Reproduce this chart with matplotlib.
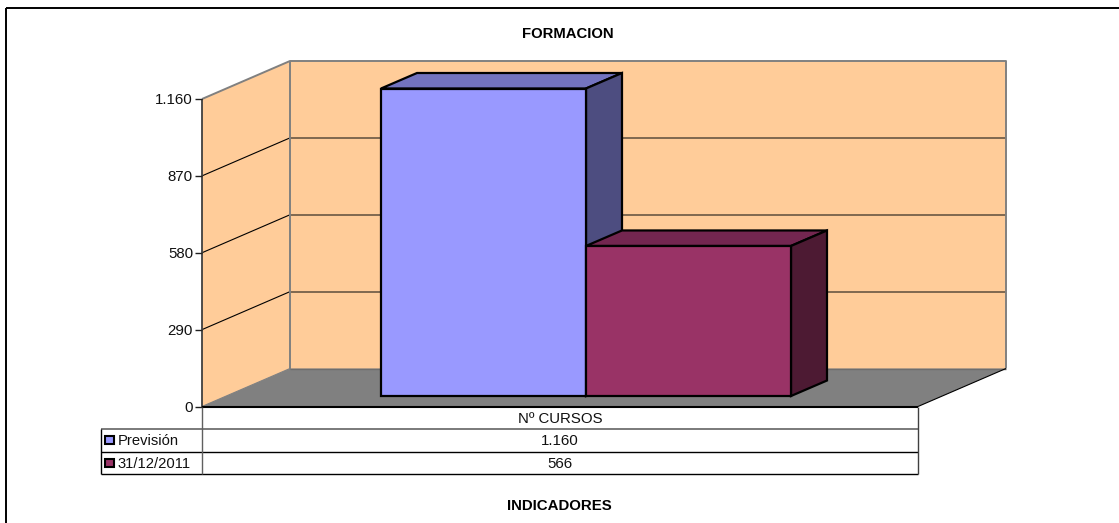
import matplotlib
matplotlib.use('Agg')
import matplotlib.pyplot as plt
from matplotlib.patches import Polygon, Rectangle

plt.rcParams['font.family'] = ['Liberation Sans', 'DejaVu Sans']

series = ['Previsión', '31/12/2011']
values = [1160, 566]
value_labels = ['1.160', '566']
category = 'Nº CURSOS'
ticks = [0, 290, 580, 870, 1160]
tick_labels = ['0', '290', '580', '870', '1.160']
colors = ['#9999ff', '#993366']
top_colors = ['#7373bf', '#732650']
side_colors = ['#4d4d80', '#4d1a33']

W, H = 1119, 523
fig = plt.figure(figsize=(W / 100, H / 100), dpi=100)
ax = fig.add_axes([0, 0, 1, 1])
ax.set_xlim(0, W)
ax.set_ylim(H, 0)
ax.axis('off')

# pixel layout of the fake 3d box
x0, x1 = 202, 918
y0 = 406.5
px_per_unit = 307.5 / 1160
dx, dy = 88, -38
bar_dx, bar_dy = 36, -15.5
bar_x = 381
bar_w = 205
bar_base = 396


def val_y(v):
    return y0 - v * px_per_unit


def poly(pts, fc, ec='none', lw=1.0, z=1):
    ax.add_patch(Polygon(pts, closed=True, fc=fc, ec=ec, lw=lw, zorder=z, joinstyle='miter'))


def line(xs, ys, color='black', lw=1.0, z=2):
    ax.plot(xs, ys, color=color, lw=lw, zorder=z, solid_capstyle='butt')


# frame of the picture
line([6, 6], [H, 7.5], 'black', 1.4)
line([6, W], [7.5, 7.5], 'black', 1.4)

# walls and floor
wall = '#ffcc99'
top = val_y(ticks[-1])
poly([(x0, top), (x0 + dx, top + dy), (x0 + dx, y0 + dy), (x0, y0)], wall)
poly([(x0 + dx, top + dy), (x1 + dx, top + dy), (x1 + dx, y0 + dy), (x0 + dx, y0 + dy)], wall)
poly([(x0, y0), (x0 + dx, y0 + dy), (x1 + dx, y0 + dy), (x1, y0)], '#808080')

# gridlines
for t in ticks[1:-1]:
    y = val_y(t)
    line([x0, x0 + dx], [y, y + dy], 'black', 0.8)
    line([x0 + dx, x1 + dx], [y + dy, y + dy], '#75604a', 1.3)

line([x0, x0 + dx, x1 + dx, x1 + dx], [top, top + dy, top + dy, y0 + dy], '#808080', 1.4, 3)
line([x0 + dx, x0 + dx], [top + dy, y0 + dy], '#808080', 1.4, 3)
line([x0 + dx, x1 + dx], [y0 + dy, y0 + dy], '#6e6e6e', 1.0, 3)
line([x0, x0 + dx], [y0, y0 + dy], '#808080', 0.8, 3)
line([x1, x1 + dx], [y0, y0 + dy], 'black', 0.8, 3)

# bars, drawn back to front so that the second covers the first one's side
for i, v in enumerate(values):
    left = bar_x + i * bar_w
    right = left + bar_w
    ytop = bar_base - v * px_per_unit
    z = 5 + i
    poly([(left, ytop), (left + bar_dx, ytop + bar_dy), (right + bar_dx, ytop + bar_dy), (right, ytop)],
         top_colors[i], 'black', 1.6, z)
    poly([(right, ytop), (right + bar_dx, ytop + bar_dy), (right + bar_dx, bar_base + bar_dy), (right, bar_base)],
         side_colors[i], 'black', 1.6, z)
    ax.add_patch(Rectangle((left, ytop), bar_w, bar_base - ytop, fc=colors[i], ec='black', lw=1.6, zorder=z + 0.5))

# value axis
line([x0, x0], [top, y0], '#404040', 1.3, 4)
for t, lab in zip(ticks, tick_labels):
    y = val_y(t)
    line([x0 - 7, x0], [y, y], '#202020', 1.0, 4)
    ax.text(x0 - 9, y + 1, lab, ha='right', va='center', fontsize=10.8, color='#111111')

# data table
col_l, row_h = 101, 22.5
rows = [y0 + row_h * k for k in range(4)]
line([x0, x1], [rows[0], rows[0]], 'black', 1.5, 4)
line([col_l, x1], [rows[1], rows[1]], '#707070', 1.3, 4)
line([col_l, x1], [rows[2], rows[2]], 'black', 1.0, 4)
line([col_l, x1], [rows[3], rows[3]], 'black', 1.0, 4)
line([x0, x0], [y0, rows[3]], '#606060', 1.0, 4)
line([x1, x1], [y0, rows[3]], '#404040', 1.0, 4)
line([col_l, col_l], [rows[1], rows[3]], 'black', 1.0, 4)
ax.text((x0 + x1) / 2, (rows[0] + rows[1]) / 2 + 1, category, ha='center', va='center', fontsize=10.8, color='#111111')
for i, name in enumerate(series):
    ymid = (rows[i + 1] + rows[i + 2]) / 2
    ax.add_patch(Rectangle((col_l + 3.5, ymid - 4), 9, 8, fc=colors[i], ec='black', lw=1.5, zorder=5))
    ax.text(col_l + 16.5, ymid + 1, name, ha='left', va='center', fontsize=10.6, color='#111111')
    ax.text((x0 + x1) / 2, ymid + 1, value_labels[i], ha='center', va='center', fontsize=10.8, color='#111111')

ax.text(568, 34.5, 'FORMACION', ha='center', va='center', fontsize=10.7, fontweight='bold')
ax.text(559, 506, 'INDICADORES', ha='center', va='center', fontsize=10.8, fontweight='bold')

fig.savefig('out.png', dpi=100, facecolor='white')
